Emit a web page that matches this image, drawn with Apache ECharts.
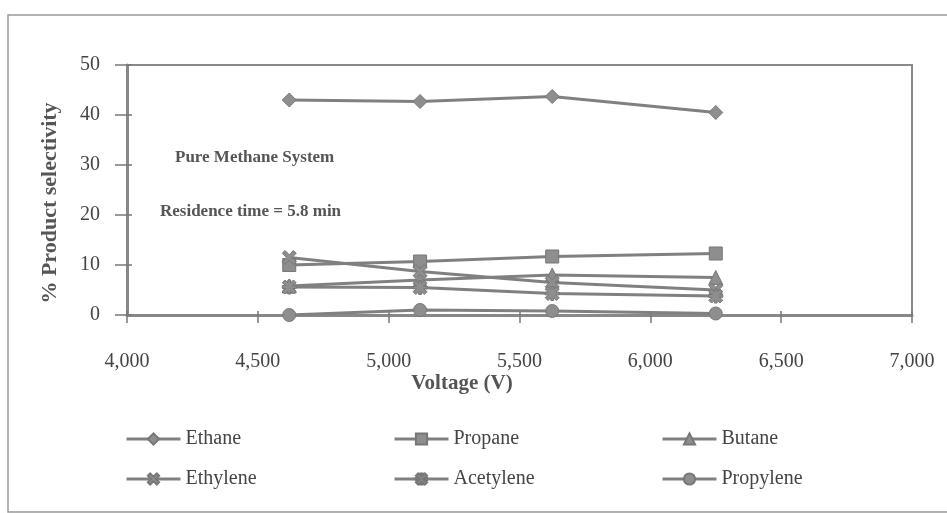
<!DOCTYPE html>
<html>
<head>
<meta charset="utf-8">
<script src="https://cdn.jsdelivr.net/npm/echarts@6/dist/echarts.min.js"></script>
<style>
html,body{margin:0;padding:0;background:#fff;}
#c{width:947px;height:513px;}
</style>
</head>
<body>
<div id="c"></div>
<script>
// ---- data ----
const voltages = [4620, 5120, 5625, 6250];
const ethane = [43.0, 42.7, 43.7, 40.5];
const propane = [10.0, 10.7, 11.7, 12.3];
const butane = [5.8, 7.0, 8.0, 7.5];
const ethylene = [11.5, 8.7, 6.5, 5.0];
const acetylene = [5.6, 5.5, 4.3, 3.8];
const propylene = [0.0, 1.0, 0.8, 0.3];
const seriesNames = ['Ethane', 'Propane', 'Butane', 'Ethylene', 'Acetylene', 'Propylene'];
const xTicks = {min: 4000, max: 7000, interval: 500};
const yTicks = {min: 0, max: 50, interval: 10};

const xPath = 'path://M2,0 L5,3 L8,0 L10,2 L7,5 L10,8 L8,10 L5,7 L2,10 L0,8 L3,5 L0,2 Z';
const starPath = 'path://M2,0 L4,2 L4,0 L6,0 L6,2 L8,0 L10,2 L7.5,4 L10,4 L10,6 L7.5,6 L10,8 L8,10 L6,8 L6,10 L4,10 L4,8 L2,10 L0,8 L2.5,6 L0,6 L0,4 L2.5,4 L0,2 Z';

const seriesData = [ethane, propane, butane, ethylene, acetylene, propylene];
const symbols = ['diamond', 'rect', 'triangle', xPath, starPath, 'circle'];
const symbolSizes = [14, 13, 14, 14, 14, 13];

const lineColor = '#808080';
const serif = '"Liberation Serif", "DejaVu Serif", serif';

const series = seriesNames.map((n, i) => ({
  name: n,
  type: 'line',
  data: voltages.map((v, j) => [v, seriesData[i][j]]),
  symbol: symbols[i],
  symbolSize: symbolSizes[i],
  showAllSymbol: true,
  lineStyle: {color: lineColor, width: 3},
  itemStyle: {color: '#8e8e8e', borderColor: '#777', borderWidth: 1},
  emphasis: {disabled: true},
  animation: false,
  z: 3
}));

// legend positions (3 columns x 2 rows)
const legendPos = [
  [120, 424], [388, 424], [656, 424],
  [120, 464], [388, 464], [656, 464]
];
const legends = seriesNames.map((n, i) => ({
  data: [n],
  left: legendPos[i][0],
  top: legendPos[i][1],
  itemWidth: 54,
  itemHeight: 14,
  itemGap: 0,
  selectedMode: false,
  lineStyle: {width: 3, color: lineColor},
  textStyle: {fontFamily: serif, fontSize: 20, color: '#444'}
}));

const chart = echarts.init(document.getElementById('c'), null, {renderer: 'canvas'});
chart.setOption({
  backgroundColor: '#fff',
  animation: false,
  grid: {left: 127, top: 65, right: 35, bottom: 198, show: true, borderColor: '#8a8a8a', borderWidth: 2, backgroundColor: 'transparent'},
  legend: legends,
  xAxis: [{
    type: 'value', min: xTicks.min, max: xTicks.max, interval: xTicks.interval,
    axisLine: {show: true, onZero: false, lineStyle: {color: '#888', width: 3}},
    axisTick: {show: true, length: 8, lineStyle: {color: '#777', width: 1.5}},
    splitLine: {show: false},
    axisLabel: {margin: 37, fontFamily: serif, fontSize: 20, color: '#444',
      formatter: v => v.toLocaleString('en-US')}
  }, {
    type: 'value', min: xTicks.min, max: xTicks.max, interval: xTicks.interval, position: 'bottom',
    axisLine: {show: false}, axisLabel: {show: false}, splitLine: {show: false},
    axisTick: {show: true, inside: true, length: 4, lineStyle: {color: '#777', width: 1.5}}
  }],
  yAxis: [{
    type: 'value', min: yTicks.min, max: yTicks.max, interval: yTicks.interval,
    axisLine: {show: true, onZero: false, lineStyle: {color: '#888', width: 3}},
    axisTick: {show: true, length: 12, lineStyle: {color: '#777', width: 1.5}},
    splitLine: {show: false},
    axisLabel: {margin: 27, fontFamily: serif, fontSize: 20, color: '#444'}
  }, {
    type: 'value', min: yTicks.min, max: yTicks.max, interval: yTicks.interval, position: 'left',
    axisLine: {show: false}, axisLabel: {show: false}, splitLine: {show: false},
    axisTick: {show: true, inside: true, length: 5, lineStyle: {color: '#777', width: 1.5}}
  }],
  series: series,
  graphic: [
    {type: 'rect', shape: {x: 8, y: 15, width: 950, height: 497}, style: {fill: 'none', stroke: '#999', lineWidth: 1.5}, silent: true, z: -1},
    {type: 'text', x: 50, y: 203, rotation: Math.PI / 2, style: {text: '% Product selectivity', font: 'bold 22px ' + serif, fill: '#555', textAlign: 'center', textVerticalAlign: 'middle'}},
    {type: 'text', x: 175, y: 158, style: {text: 'Pure Methane System', font: 'bold 17px ' + serif, fill: '#555', textVerticalAlign: 'middle'}},
    {type: 'text', x: 160, y: 212, style: {text: 'Residence time = 5.8 min', font: 'bold 17px ' + serif, fill: '#555', textVerticalAlign: 'middle'}},
    {type: 'text', x: 462, y: 384, style: {text: 'Voltage (V)', font: 'bold 21px ' + serif, fill: '#555', textAlign: 'center', textVerticalAlign: 'middle'}}
  ]
});
</script>
</body>
</html>
